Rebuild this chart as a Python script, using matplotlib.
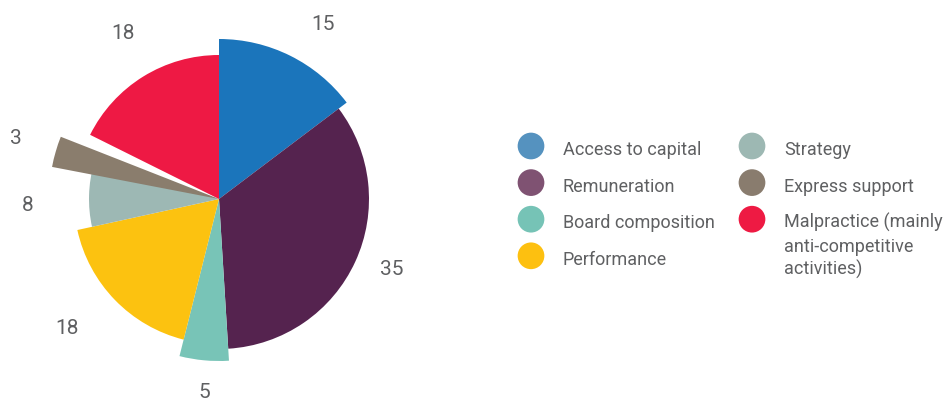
import matplotlib
matplotlib.use("Agg")
import matplotlib.pyplot as plt
import numpy as np

plt.rcParams['font.family'] = ['Roboto', 'DejaVu Sans']

# data
categories = ['Access to capital', 'Remuneration', 'Board composition', 'Performance',
              'Strategy', 'Express support', 'Malpractice (mainly\nanti-competitive\nactivities)']
values = [15, 35, 5, 18, 8, 3, 18]

# style
colors = ['#1b75bb', '#55234f', '#78c4b7', '#fcc210', '#9db8b4', '#8a7d6d', '#ee1944']
legend_colors = ['#5592bf', '#7f5272', '#76c3b6', '#fdc010', '#9db8b3', '#897c6e', '#ee1a43']
radii = [160, 150, 162, 145, 130, 170, 144]
label_r = [205, 186, 192, 198, 191, 213, 193]
label_dc = [3.9, -3.0, -0.8, 4.2, -3.0, 1.0, 2.0]
shift = [0, 0, 0, 0, 0, 5, 0]
text_col = '#5f6062'

W, H = 944, 401
cx, cy = 219, H - 199

fig = plt.figure(figsize=(W / 100, H / 100), dpi=100)
ax = fig.add_axes([0, 0, 1, 1])

wedges, _ = ax.pie(values, colors=colors, startangle=90, counterclock=False,
                   center=(cx, cy), radius=150, wedgeprops=dict(linewidth=0))
for w, r, s in zip(wedges, radii, shift):
    w.set_radius(r)
    w.set_theta1(w.theta1 + s)
    w.set_theta2(w.theta2 + s)

# value labels
for w, v, r, dc in zip(wedges, values, label_r, label_dc):
    mid = (w.theta1 + w.theta2) / 2
    c = np.deg2rad(90 - mid + dc)
    ax.text(cx + r * np.sin(c), cy + r * np.cos(c) - 2, str(v), fontsize=15,
            color=text_col, ha='center', va='center')

# legend
col_x = [531, 752]
row_y0, row_dy = 146, 36.6
for i, (lab, col) in enumerate(zip(categories, legend_colors)):
    c_i, r_i = (0, i) if i < 4 else (1, i - 4)
    x = col_x[c_i]
    y = H - (row_y0 + r_i * row_dy)
    ax.scatter([x], [y], s=370, color=col, edgecolors='none')
    for j, line in enumerate(lab.split('\n')):
        ax.text(x + 32, y - 9 - j * 23.5, line, fontsize=13,
                color=text_col, ha='left', va='baseline')

ax.set_xlim(0, W)
ax.set_ylim(0, H)
ax.set_aspect('equal')
ax.axis('off')

fig.savefig('out.png', dpi=100)
